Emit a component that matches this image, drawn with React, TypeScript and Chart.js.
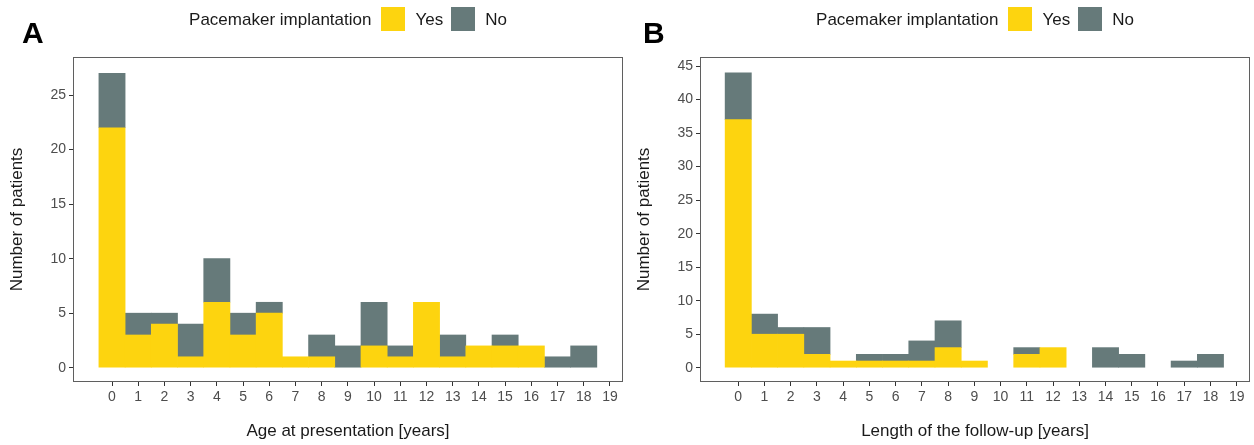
import React, { useEffect, useRef } from "react";
import { Chart, registerables } from "chart.js";

Chart.register(...registerables);

// ---- Data ----
const bins = [0, 1, 2, 3, 4, 5, 6, 7, 8, 9, 10, 11, 12, 13, 14, 15, 16, 17, 18];
const yesA = [22, 3, 4, 1, 6, 3, 5, 1, 1, 0, 2, 1, 6, 1, 2, 2, 2, 0, 0];
const noA = [5, 2, 1, 3, 4, 2, 1, 0, 2, 2, 4, 1, 0, 2, 0, 1, 0, 1, 2];
const yesB = [37, 5, 5, 2, 1, 1, 1, 1, 3, 1, 0, 2, 3, 0, 0, 0, 0, 0, 0];
const noB = [7, 3, 1, 4, 0, 1, 1, 3, 4, 0, 0, 1, 0, 0, 3, 2, 0, 1, 2];
const xTicks = [0, 1, 2, 3, 4, 5, 6, 7, 8, 9, 10, 11, 12, 13, 14, 15, 16, 17, 18, 19];
const yTicksA = [0, 5, 10, 15, 20, 25];
const yTicksB = [0, 5, 10, 15, 20, 25, 30, 35, 40, 45];
const seriesNames = ["Yes", "No"];
const seriesColors = ["#FDD40F", "#667A7A"];
const legendTitle = "Pacemaker implantation";
const yTitle = "Number of patients";
const xTitleA = "Age at presentation [years]";
const xTitleB = "Length of the follow-up [years]";
const panelLetters = ["A", "B"];

const FONT = "'Liberation Sans', Arial, Helvetica, sans-serif";
const W = 627;
const H = 445;
const AREA_LEFT = 74;
const AREA_RIGHT = 622;
const AREA_TOP = 58;
const AREA_BOTTOM = 381;

const borderPlugin = {
  id: "panelBorder",
  afterDraw(chart: any) {
    const { ctx, chartArea } = chart;
    ctx.save();
    ctx.strokeStyle = "#5f5f5f";
    ctx.lineWidth = 1;
    ctx.strokeRect(
      Math.round(chartArea.left) - 0.5,
      Math.round(chartArea.top) - 0.5,
      Math.round(chartArea.right - chartArea.left) + 1,
      Math.round(chartArea.bottom - chartArea.top) + 1
    );
    ctx.restore();
  },
};

type PanelProps = {
  offset: number;
  letter: string;
  letterLeft: number;
  yes: number[];
  no: number[];
  yMin: number;
  yMax: number;
  yTicks: number[];
  xMin: number;
  xMax: number;
  xTitle: string;
};

const toPoints = (vals: number[]) =>
  bins.map((b, i) => ({ x: b, y: vals[i] === 0 ? null : vals[i] }));

function Panel(p: PanelProps) {
  const ref = useRef<HTMLCanvasElement>(null);
  useEffect(() => {
    const chart = new Chart(ref.current as HTMLCanvasElement, {
      type: "bar",
      data: {
        datasets: [
          {
            label: seriesNames[0],
            data: toPoints(p.yes),
            backgroundColor: seriesColors[0],
            borderWidth: 0,
            barPercentage: 1,
            categoryPercentage: 1,
          },
          {
            label: seriesNames[1],
            data: toPoints(p.no),
            backgroundColor: seriesColors[1],
            borderWidth: 0,
            barPercentage: 1,
            categoryPercentage: 1,
          },
        ],
      } as any,
      options: {
        responsive: false,
        animation: false,
        devicePixelRatio: 1,
        layout: { padding: { left: 0, top: AREA_TOP, right: W - AREA_RIGHT, bottom: 0 } },
        plugins: { legend: { display: false }, tooltip: { enabled: false } },
        font: { family: FONT },
        scales: {
          x: {
            type: "linear",
            min: p.xMin,
            max: p.xMax,
            offset: false,
            stacked: true,
            grid: {
              display: true,
              drawOnChartArea: false,
              drawTicks: true,
              tickLength: 5,
              tickColor: "#333333",
              offset: false,
            },
            border: { display: false },
            ticks: {
              font: { family: FONT, size: 14 },
              color: "#4d4d4d",
              padding: 3,
              maxRotation: 0,
              autoSkip: false,
            },
            title: {
              display: true,
              text: p.xTitle,
              font: { family: FONT, size: 17 },
              color: "#1a1a1a",
              padding: { top: 0, bottom: 3 },
            },
            afterBuildTicks: (s: any) => {
              s.ticks = xTicks.map((v) => ({ value: v }));
            },
            afterFit: (s: any) => {
              s.height = H - AREA_BOTTOM;
            },
          },
          y: {
            type: "linear",
            min: p.yMin,
            max: p.yMax,
            stacked: true,
            grid: {
              display: true,
              drawOnChartArea: false,
              drawTicks: true,
              tickLength: 5,
              tickColor: "#333333",
            },
            border: { display: false },
            ticks: {
              font: { family: FONT, size: 14 },
              color: "#4d4d4d",
              padding: 3,
            },
            title: {
              display: true,
              text: yTitle,
              font: { family: FONT, size: 17 },
              color: "#1a1a1a",
              padding: { top: 7, bottom: 0 },
            },
            afterBuildTicks: (s: any) => {
              s.ticks = p.yTicks.map((v) => ({ value: v }));
            },
            afterFit: (s: any) => {
              s.width = AREA_LEFT;
            },
          },
        },
      } as any,
      plugins: [borderPlugin],
    });
    return () => chart.destroy();
  }, []);

  return (
    <div style={{ position: "absolute", left: p.offset, top: 0, width: W, height: H }}>
      <canvas ref={ref} width={W} height={H} style={{ width: W, height: H, display: "block" }} />
      <div
        style={{
          position: "absolute",
          left: p.letterLeft,
          top: 18,
          fontFamily: FONT,
          fontWeight: "bold",
          fontSize: 30,
          lineHeight: "30px",
          color: "#000",
        }}
      >
        {p.letter}
      </div>
      <div
        style={{
          position: "absolute",
          left: AREA_LEFT,
          width: AREA_RIGHT - AREA_LEFT,
          top: 7,
          height: 24,
          display: "flex",
          justifyContent: "center",
          alignItems: "center",
          fontFamily: FONT,
          fontSize: 17,
          color: "#1a1a1a",
          whiteSpace: "nowrap",
        }}
      >
        <span style={{ marginRight: 10, lineHeight: "24px", position: "relative", top: 1 }}>{legendTitle}</span>
        {seriesNames.map((n, i) => (
          <React.Fragment key={n}>
            <span style={{ display: "inline-block", width: 24, height: 24, background: seriesColors[i], marginRight: 10 }} />
            <span style={{ marginRight: i === 0 ? 8 : 0, lineHeight: "24px", position: "relative", top: 1 }}>{n}</span>
          </React.Fragment>
        ))}
      </div>
    </div>
  );
}

export default function App() {
  return (
    <div style={{ position: "absolute", left: 0, top: 0, width: 1254, height: 445, background: "#fff" }}>
      <Panel
        offset={0}
        letter={panelLetters[0]}
        letterLeft={22}
        yes={yesA}
        no={noA}
        yMin={-1.22}
        yMax={28.4}
        yTicks={yTicksA}
        xMin={-1.45}
        xMax={19.46}
        xTitle={xTitleA}
      />
      <Panel
        offset={W}
        letter={panelLetters[1]}
        letterLeft={16}
        yes={yesB}
        no={noB}
        yMin={-1.98}
        yMax={46.2}
        yTicks={yTicksB}
        xMin={-1.42}
        xMax={19.47}
        xTitle={xTitleB}
      />
    </div>
  );
}
